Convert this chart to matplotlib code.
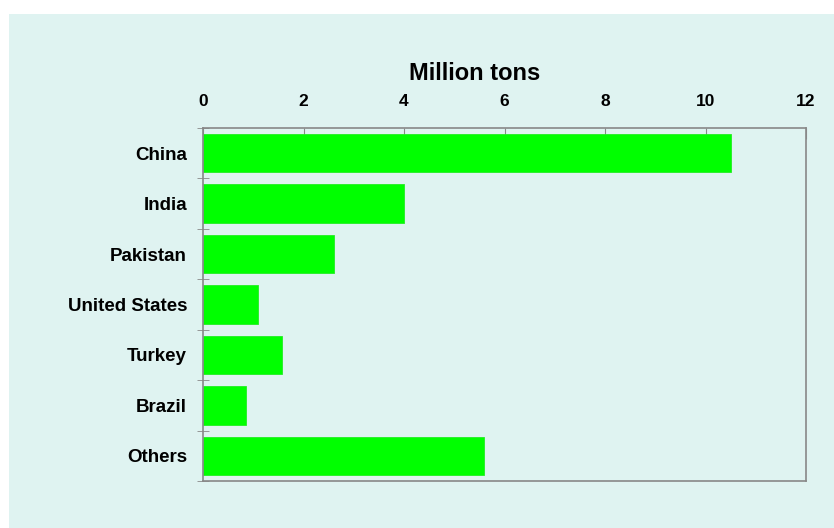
import matplotlib.pyplot as plt
from matplotlib.patches import Rectangle
from matplotlib.ticker import FixedLocator

# Production by country, million tons
countries = ["China", "India", "Pakistan", "United States", "Turkey", "Brazil", "Others"]
production = [10.5, 4.0, 2.6, 1.1, 1.57, 0.85, 5.6]
x_ticks = [0, 2, 4, 6, 8, 10, 12]

plt.rcParams['font.family'] = ['Liberation Sans', 'DejaVu Sans']

fig = plt.figure(figsize=(8.34, 5.28), dpi=100)
fig.patch.set_facecolor('white')

# light panel behind the chart
panel = Rectangle((9 / 834, 0), 1, 1 - 14 / 528, transform=fig.transFigure,
                  facecolor='#dff3f1', edgecolor='none', zorder=-10)
fig.patches.append(panel)

ax = fig.add_axes([203 / 834, 1 - 481 / 528, 603 / 834, 353 / 528])
ax.set_facecolor('none')

pos = list(range(len(countries)))
ax.barh(pos, production, height=0.76, color='#00ff00', edgecolor='#22ee22',
        linewidth=0.6, zorder=2)

ax.set_xlim(0, 12)
ax.set_ylim(len(countries) - 0.5, -0.5)

ax.xaxis.tick_top()
ax.set_xticks(x_ticks)
ax.set_xticklabels([str(t) for t in x_ticks], fontweight='bold', fontsize=12.5)
ax.tick_params(axis='x', direction='in', length=8, color='#888888', pad=13.5)

ax.set_yticks(pos)
ax.set_yticklabels(countries, fontweight='bold', fontsize=13.5)
ax.tick_params(axis='y', which='major', length=0, pad=11.5)
ax.yaxis.set_minor_locator(FixedLocator([p - 0.5 for p in pos] + [len(pos) - 0.5]))
ax.tick_params(axis='y', which='minor', direction='inout', length=8, color='#888888')

for side in ['top', 'bottom', 'left', 'right']:
    ax.spines[side].set_color('#888888')
    ax.spines[side].set_linewidth(1.2)

ax.text(0.451, 1.136, "Million tons", transform=ax.transAxes, ha='center',
        va='baseline', fontsize=17, fontweight='bold')

fig.savefig('out.png', dpi=100)
